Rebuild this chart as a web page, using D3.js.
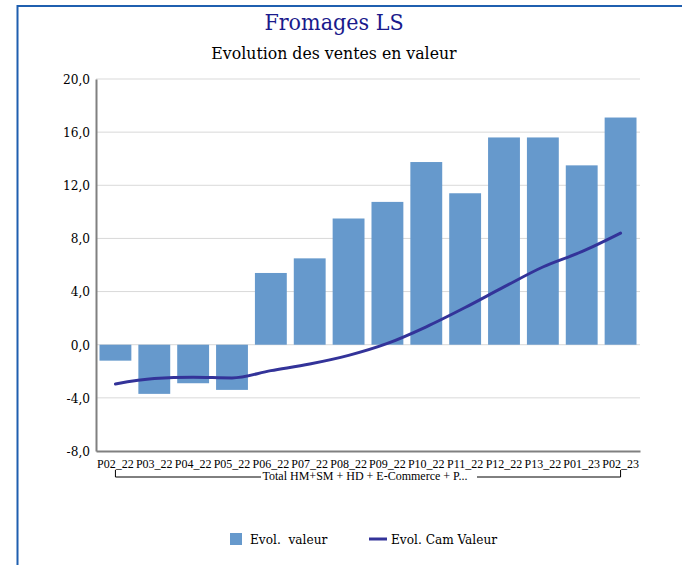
<!DOCTYPE html>
<html>
<head>
<meta charset="utf-8">
<script src="https://cdn.jsdelivr.net/npm/d3@7"></script>
<style>
  body { margin: 0; background: #fff; }
  svg { display: block; }
  text { font-family: "DejaVu Serif Condensed", "DejaVu Serif", serif; }
</style>
</head>
<body>
<svg id="chart" width="682" height="565"></svg>
<script>
// chart data
const periods = ["P02_22","P03_22","P04_22","P05_22","P06_22","P07_22","P08_22",
                 "P09_22","P10_22","P11_22","P12_22","P13_22","P01_23","P02_23"];
const evolValeur = [-1.2, -3.7, -2.9, -3.4, 5.4, 6.5, 9.5, 10.75, 13.75, 11.4, 15.6, 15.6, 13.5, 17.1];
const evolCamValeur = [-2.95, -2.55, -2.45, -2.5, -1.95, -1.45, -0.8, 0.1, 1.35, 2.8, 4.35, 5.85, 7.0, 8.4];
const yTicks = [-8, -4, 0, 4, 8, 12, 16, 20];
const groupLabel = "Total HM+SM + HD + E-Commerce + P...";

const svg = d3.select("#chart");

// frame
svg.append("path")
    .attr("d", "M17.5,565 V6 H682")
    .attr("fill", "none")
    .attr("stroke", "#1F5FAF")
    .attr("stroke-width", 2);

// titles
svg.append("text")
    .attr("x", 334).attr("y", 30)
    .attr("text-anchor", "middle")
    .attr("font-size", 23)
    .attr("fill", "#1A1A8C")
    .text("Fromages LS");

svg.append("text")
    .attr("x", 334).attr("y", 59)
    .attr("text-anchor", "middle")
    .attr("font-size", 17.5)
    .attr("fill", "#000")
    .text("Evolution des ventes en valeur");

const plotLeft = 96, plotRight = 640, plotTop = 79, plotBottom = 451;

const x = d3.scaleBand()
    .domain(periods)
    .range([plotLeft, plotRight])
    .paddingInner(0.18)
    .paddingOuter(0.09);

const y = d3.scaleLinear()
    .domain([-8, 20])
    .range([plotBottom, plotTop]);

// gridlines
svg.append("g")
    .attr("class", "grid")
    .selectAll("line")
    .data(yTicks.filter(d => d !== -8))
    .enter().append("line")
    .attr("x1", plotLeft).attr("x2", plotRight)
    .attr("y1", d => y(d)).attr("y2", d => y(d))
    .attr("stroke", "#D9D9D9")
    .attr("stroke-width", 1);

// bars
svg.append("g")
    .attr("class", "bars")
    .selectAll("rect")
    .data(evolValeur)
    .enter().append("rect")
    .attr("x", (d, i) => x(periods[i]))
    .attr("width", x.bandwidth())
    .attr("y", d => y(Math.max(0, d)))
    .attr("height", d => Math.abs(y(d) - y(0)))
    .attr("fill", "#6699CC");

// smoothed line
const line = d3.line()
    .x((d, i) => x(periods[i]) + x.bandwidth() / 2)
    .y(d => y(d))
    .curve(d3.curveMonotoneX);

svg.append("path")
    .datum(evolCamValeur)
    .attr("d", line)
    .attr("fill", "none")
    .attr("stroke", "#333399")
    .attr("stroke-width", 3)
    .attr("stroke-linecap", "round");

// y axis
const yAxis = d3.axisLeft(y)
    .tickValues(yTicks)
    .tickSize(0)
    .tickPadding(6)
    .tickFormat(d => d3.format(".1f")(d).replace(".", ",").replace("−", "-"));

const gy = svg.append("g")
    .attr("transform", `translate(${plotLeft},0)`)
    .call(yAxis);
gy.select(".domain").attr("stroke", "#808080").attr("stroke-width", 2);
gy.selectAll("text")
    .attr("font-size", 13.5)
    .attr("fill", "#000")
    .style("font-family", "\"DejaVu Serif Condensed\", \"DejaVu Serif\", serif");

// x axis
const xAxis = d3.axisBottom(x).tickSize(0).tickPadding(8);
const gx = svg.append("g")
    .attr("transform", `translate(0,${plotBottom})`)
    .call(xAxis);
gx.select(".domain").attr("stroke", "#808080").attr("stroke-width", 2);
gx.selectAll("text")
    .attr("font-size", 12)
    .attr("fill", "#000")
    .style("font-family", "\"Liberation Serif\", serif");

// group bracket
const bx1 = x(periods[0]) + x.bandwidth() / 2;
const bx2 = x(periods[periods.length - 1]) + x.bandwidth() / 2;
const by = 477;
const gapL = 261, gapR = 477;
svg.append("path")
    .attr("d", `M${bx1},470 V${by} H${gapL} M${gapR},${by} H${bx2} V470`)
    .attr("fill", "none")
    .attr("stroke", "#000")
    .attr("stroke-width", 1);
svg.append("text")
    .attr("x", 365).attr("y", 480)
    .attr("text-anchor", "middle")
    .attr("font-size", 12)
    .style("font-family", "\"Liberation Serif\", serif")
    .text(groupLabel);

// legend
const legend = svg.append("g").attr("class", "legend");
legend.append("rect")
    .attr("x", 230).attr("y", 533)
    .attr("width", 12).attr("height", 12)
    .attr("fill", "#6699CC");
legend.append("text")
    .attr("x", 250).attr("y", 544)
    .attr("font-size", 13.5)
    .attr("xml:space", "preserve")
    .text("Evol.  valeur");
legend.append("line")
    .attr("x1", 369).attr("x2", 387)
    .attr("y1", 539).attr("y2", 539)
    .attr("stroke", "#333399")
    .attr("stroke-width", 3);
legend.append("text")
    .attr("x", 391).attr("y", 544)
    .attr("font-size", 13.5)
    .text("Evol. Cam Valeur");
</script>
</body>
</html>
